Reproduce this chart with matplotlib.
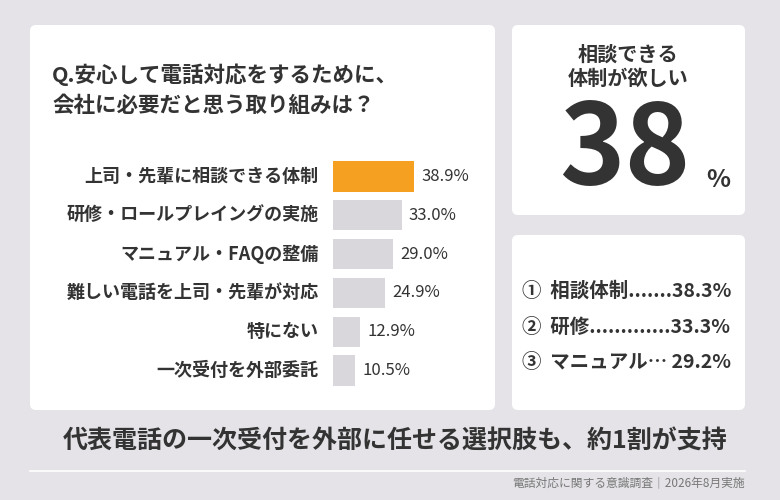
import matplotlib
matplotlib.use("Agg")
import matplotlib.pyplot as plt
from matplotlib.patches import FancyBboxPatch

plt.rcParams['font.family'] = ['Noto Sans CJK JP', 'DejaVu Sans']

categories = ["上司・先輩に相談できる体制", "研修・ロールプレイングの実施", "マニュアル・FAQの整備",
              "難しい電話を上司・先輩が対応", "特にない", "一次受付を外部委託"]
values = [38.9, 33.0, 29.0, 24.9, 12.9, 10.5]
ranking = ["①  相談体制.......38.3%", "②  研修.............33.3%", "③  マニュアル… 29.2%"]

BG = "#e5e3e7"; TXT = "#333333"; ORANGE = "#f5a020"; GRAY = "#d9d7db"
W, H = 780, 500

fig = plt.figure(figsize=(7.8, 5), dpi=100)
fig.patch.set_facecolor(BG)
ov = fig.add_axes([0, 0, 1, 1]); ov.set_xlim(0, W); ov.set_ylim(H, 0); ov.axis("off")

def panel(x0, y0, x1, y1):
    ov.add_patch(FancyBboxPatch((x0, y0), x1 - x0, y1 - y0, boxstyle="round,pad=0,rounding_size=6",
                                fc="white", ec="none"))

panel(30, 25, 495, 410)
panel(512, 25, 745, 215)
panel(512, 235, 745, 410)

ov.text(52, 75, "Q.安心して電話対応をするために、", fontsize=15.5, weight="bold", color=TXT, va="center")
ov.text(52, 105, "会社に必要だと思う取り組みは？", fontsize=15.5, weight="bold", color=TXT, va="center")

ov.text(628, 66, "相談できる\n体制が欲しい", fontsize=14.5, weight="bold", color=TXT,
        ha="center", va="center", linespacing=1.2)
ov.text(625, 152, "38", fontsize=80, weight="bold", color=TXT, ha="center", va="center")
ov.text(718, 180, "%", fontsize=18, weight="bold", color=TXT, ha="center", va="center")

for i, r in enumerate(ranking):
    ov.text(522, 291 + 36 * i, r, fontsize=14, weight="bold", color=TXT, va="center")

ov.text(395, 442, "代表電話の一次受付を外部に任せる選択肢も、約1割が支持", fontsize=18,
        weight="bold", color=TXT, ha="center", va="center")
ov.plot([30, 745], [471, 471], color="white", lw=1.2)
ov.text(745, 484, "電話対応に関する意識調査｜2026年8月実施", fontsize=8.5, color="#777777",
        ha="right", va="center")

# bar chart
x0, x1, y0, y1 = 333, 333 + 208, 157, 390
ax = fig.add_axes([x0 / W, 1 - y1 / H, (x1 - x0) / W, (y1 - y0) / H])
ax.set_xlim(0, 100); ax.set_ylim(5.5, -0.5); ax.axis("off")
colors = [ORANGE] + [GRAY] * (len(values) - 1)
ys = range(len(values))
ax.barh(ys, values, height=0.78, color=colors)
for y, v, c in zip(ys, values, categories):
    ax.text(v + 3.5, y, f"{v:.1f}%", fontsize=12, color=TXT, va="center")
    ax.text(-7, y, c, fontsize=13, color=TXT, va="center", ha="right", weight="bold")

fig.savefig("out.png", dpi=100, facecolor=BG)
